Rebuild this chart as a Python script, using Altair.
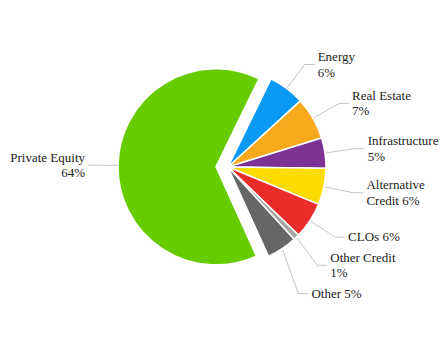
import math
import altair as alt
import pandas as pd

# ---- data ----
categories = ["Energy", "Real Estate", "Infrastructure", "Alternative Credit",
              "CLOs", "Other Credit", "Other", "Private Equity"]
values = [6, 7, 5, 6, 6, 1, 5, 64]
label_text = ["Energy\n6%", "Real Estate\n7%", "Infrastructure\n5%",
              "Alternative\nCredit 6%", "CLOs 6%", "Other Credit\n1%",
              "Other 5%", "Private Equity\n64%"]
colors = ["#0a9af5", "#f9aa1c", "#7d3396", "#fcdc00",
          "#ec2b2b", "#a6a6a6", "#666666", "#66cc00"]
sliced = "Private Equity"

# ---- layout constants ----
CX, CY = 228, 167          # pie centre (px)
R = 98                     # pie radius
DIST = 30                  # label distance beyond edge
START = math.radians(26)   # start angle of first slice
SLICE_OFF = 12             # offset of the sliced wedge
LH = 15.5                  # label line height
PAD = 5                    # minimum gap between labels
FONT = "Liberation Serif"

df = pd.DataFrame({"category": categories, "value": values,
                   "label": label_text, "idx": list(range(len(categories)))})

base = (
    alt.Chart(df)
    .transform_window(cum="sum(value)", sort=[alt.SortField("idx", order="ascending")])
    .transform_joinaggregate(total="sum(value)")
    .transform_calculate(a0=f"{START} + 2*PI*(datum.cum - datum.value)/datum.total")
    .transform_calculate(a1=f"{START} + 2*PI*datum.cum/datum.total")
    .transform_calculate(mid="(datum.a0 + datum.a1)/2")
    .transform_calculate(off=f"datum.category === '{sliced}' ? {SLICE_OFF} : 0")
    .transform_calculate(px=f"{CX} + datum.off*sin(datum.mid)")
    .transform_calculate(py=f"{CY} - datum.off*cos(datum.mid)")
    .transform_calculate(side="sin(datum.mid) >= 0 ? 'right' : 'left'")
    .transform_calculate(sx=f"datum.px + {R + 1}*sin(datum.mid)")
    .transform_calculate(sy=f"datum.py - {R + 1}*cos(datum.mid)")
    .transform_calculate(ex=f"datum.px + {R + DIST}*sin(datum.mid)")
    .transform_calculate(ynat=f"datum.py - {R + DIST}*cos(datum.mid)")
    .transform_calculate(nl="length(split(datum.label, '\\n'))")
    .transform_calculate(h=f"datum.nl * {LH}")
    .transform_window(hprev="lag(h)", groupby=["side"], sort=[alt.SortField("ynat")])
    .transform_calculate(gap=f"isValid(datum.hprev) ? (datum.hprev + datum.h)/2 + {PAD} : 0")
    .transform_window(S="sum(gap)", groupby=["side"], sort=[alt.SortField("ynat")])
    .transform_calculate(t="datum.ynat - datum.S")
    .transform_window(M="max(t)", groupby=["side"], sort=[alt.SortField("ynat")])
    .transform_calculate(ly="datum.S + datum.M")
    .transform_calculate(hx="datum.side === 'right' ? datum.ex + 10 : datum.ex")
    .transform_calculate(tx="datum.side === 'right' ? datum.ex + 13 : datum.ex - 3")
    .transform_calculate(ty=f"datum.ly - datum.h/2")
)

arcs = base.mark_arc(outerRadius=R, stroke="white", strokeWidth=1.5).encode(
    x=alt.X("px:Q", scale=None, axis=None),
    y=alt.Y("py:Q", scale=None, axis=None),
    theta=alt.Theta("a0:Q", scale=None, stack=False),
    theta2="a1:Q",
    color=alt.Color("category:N", scale=alt.Scale(domain=categories, range=colors), legend=None),
)

conn1 = base.mark_rule(color="#c4c4c4", strokeWidth=1).encode(
    x=alt.X("sx:Q", scale=None, axis=None),
    y=alt.Y("sy:Q", scale=None, axis=None),
    x2="ex:Q",
    y2="ly:Q",
)

conn2 = base.mark_rule(color="#c4c4c4", strokeWidth=1).encode(
    x=alt.X("ex:Q", scale=None, axis=None),
    y=alt.Y("ly:Q", scale=None, axis=None),
    x2="hx:Q",
    y2="ly:Q",
)

text_right = base.transform_filter("datum.side === 'right'").mark_text(
    align="left", baseline="line-top", lineBreak="\n", font=FONT, fontSize=13,
    lineHeight=LH, color="#222222"
).encode(
    x=alt.X("tx:Q", scale=None, axis=None),
    y=alt.Y("ty:Q", scale=None, axis=None),
    text="label:N",
)

text_left = base.transform_filter("datum.side === 'left'").mark_text(
    align="right", baseline="line-top", lineBreak="\n", font=FONT, fontSize=13,
    lineHeight=LH, color="#222222"
).encode(
    x=alt.X("tx:Q", scale=None, axis=None),
    y=alt.Y("ty:Q", scale=None, axis=None),
    text="label:N",
)

chart = (
    alt.layer(conn1, conn2, arcs, text_right, text_left)
    .properties(width=444, height=340, padding=0,
                autosize=alt.AutoSizeParams(type="none"), background="white")
    .configure_view(stroke=None)
)

chart.save("out.html", embed_options={"renderer": "svg", "actions": False})
